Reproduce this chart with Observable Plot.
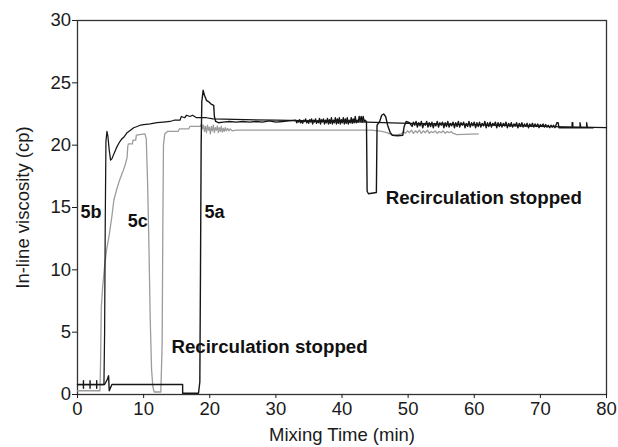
<!DOCTYPE html>
<html>
<head>
<meta charset="utf-8">
<script src="https://cdn.jsdelivr.net/npm/d3@7"></script>
<script src="https://cdn.jsdelivr.net/npm/@observablehq/plot@0.6"></script>
<style>
  body { margin: 0; background: #fff; }
</style>
</head>
<body>
<div id="chart"></div>
<script>
// In-line viscosity (cp) against mixing time (min) for three batches.
// Each reading is [minutes, cp].
const run5a = [
  [0,0.8],[0.9,0.8],[0.9,1.1],[0.9,0.5],[0.9,0.8],[1.9,0.8],[1.9,1.1],[1.9,0.5],[1.9,0.8],
  [2.9,0.8],[2.9,1.1],[2.9,0.5],[2.9,0.8],[4.1,0.8],[4.5,1.2],[4.7,1.5],[4.8,0.3],[5.2,0.8],
  [15.9,0.8],[15.9,0.1],[18.3,0.1],[18.5,1.0],[18.6,10],[18.7,20],[18.8,23.5],[19.0,24.4],
  [19.2,24.0],[19.5,23.6],[19.8,23.5],[20.2,23.3],[20.6,23.2],[20.7,22.3],[20.9,21.9],[21.3,21.8],
  [22,21.85],[23,21.9],[24,21.85],[25,21.9],[26,21.85],[27,21.9],[28,21.85],[29,21.95],[30,21.85],
  [31,21.9],[32,21.95],[33.0,22.0],[33.15,21.8],[33.3,21.95],[33.45,21.85],[33.6,22.05],[33.75,21.8],
  [33.9,21.95],[34.05,21.75],[34.2,22.0],[34.35,21.9],[34.5,22.1],[34.65,21.8],[34.8,21.95],
  [34.95,21.75],[35.1,22.05],[35.25,21.85],[35.4,22.1],[35.55,21.7],[35.7,22.0],[35.85,21.85],
  [36.0,22.1],[36.15,21.75],[36.3,21.95],[36.45,21.8],[36.6,22.15],[36.75,21.7],[36.9,22.05],
  [37.05,21.85],[37.2,22.1],[37.35,21.7],[37.5,22.0],[37.65,21.8],[37.8,22.15],[37.95,21.7],
  [38.1,22.05],[38.25,21.75],[38.4,22.2],[38.55,21.7],[38.7,22.0],[38.85,21.8],[39.0,22.2],
  [39.15,21.7],[39.3,22.1],[39.45,21.75],[39.6,22.2],[39.75,21.7],[39.9,22.05],[40.05,21.8],
  [40.2,22.2],[40.35,21.7],[40.5,22.1],[40.65,21.75],[40.8,22.2],[40.95,21.7],[41.1,22.0],
  [41.25,21.8],[41.4,22.2],[41.55,21.75],[41.7,22.1],[41.85,21.8],[42.0,22.3],[42.15,21.8],
  [42.3,22.0],[42.45,21.85],[42.6,22.3],[42.75,21.9],[42.9,22.3],[43.05,21.85],[43.2,22.3],
  [43.35,21.9],[43.5,22.0],[43.7,21.9],
  [43.8,16.3],[44.0,16.1],[45.2,16.2],[45.3,21.6],[45.7,21.9],[46.0,22.4],[46.3,22.5],[46.6,22.3],
  [46.9,21.6],[47.3,21.0],[47.6,20.8],[48.4,20.75],[49.2,20.8],[49.4,21.5],[49.7,21.9],[50.2,21.8],
  [50.6,21.5],[50.8,21.85],[51.0,21.6],[51.2,21.9],[51.4,21.45],[51.6,21.8],[51.8,21.55],[52.0,21.9],
  [52.2,21.4],[52.4,21.75],[52.6,21.6],[52.8,21.9],[53.0,21.45],[53.2,21.8],[53.4,21.5],[53.6,21.85],
  [53.8,21.4],[54.0,21.75],[54.2,21.55],[54.4,21.9],[54.6,21.45],[54.8,21.8],[55.0,21.6],[55.2,21.85],
  [55.4,21.4],[55.6,21.8],[55.8,21.5],[56.0,21.9],[56.2,21.45],[56.4,21.75],[56.6,21.55],[56.8,21.85],
  [57.0,21.4],[57.2,21.8],[57.4,21.5],[57.6,21.9],[57.8,21.45],[58.0,21.8],[58.2,21.6],[58.4,21.85],
  [58.6,21.4],[58.8,21.75],[59.0,21.5],[59.2,21.9],[59.4,21.45],[59.6,21.8],[59.8,21.55],[60.0,21.85],
  [60.2,21.4],[60.4,21.8],[60.6,21.5],[60.8,21.85],[61.0,21.45],[61.2,21.75],[61.4,21.55],[61.6,21.9],
  [61.8,21.4],[62.0,21.8],[62.2,21.5],[62.4,21.85],[62.6,21.45],[62.8,21.75],[63.0,21.6],[63.2,21.85],
  [63.4,21.4],[63.6,21.8],[63.8,21.5],[64.0,21.8],[64.2,21.45],[64.4,21.75],[64.6,21.55],[64.8,21.85],
  [65.0,21.4],[65.2,21.75],[65.4,21.5],[65.6,21.8],[65.8,21.45],[66.0,21.7],[66.2,21.55],[66.4,21.8],
  [66.6,21.4],[66.8,21.75],[67.0,21.5],[67.2,21.8],[67.4,21.45],[67.6,21.7],[67.8,21.5],[68.0,21.75],
  [68.2,21.4],[68.4,21.7],[68.6,21.5],[68.8,21.75],[69.0,21.45],[69.2,21.7],[69.4,21.5],[69.6,21.7],
  [69.8,21.4],[70.0,21.65],[70.2,21.5],[70.4,21.7],[70.6,21.45],[70.8,21.65],[71.0,21.45],[71.2,21.6],
  [71.4,21.4],[71.6,21.6],[71.8,21.45],[72.0,21.6],[72.2,21.4],[72.5,21.8],
  [72.7,21.8],[72.8,21.4],[74.8,21.4],[74.8,21.8],[74.9,21.8],[74.9,21.4],[76.0,21.4],[76.0,21.8],
  [76.1,21.4],[77.0,21.4],[77.0,21.8],[77.1,21.4],[78.0,21.4]
];

const run5b = [
  [0,0.8],[4.0,0.8],[4.1,5],[4.2,14],[4.3,20.3],[4.45,21.1],[4.6,20.7],[4.8,19.6],[5.0,18.8],
  [5.2,18.9],[5.5,19.3],[5.9,19.8],[6.3,20.2],[6.7,20.5],[7.1,20.7],[7.5,21.0],[8.0,21.2],[8.5,21.4],
  [9.0,21.5],[9.5,21.6],[10.0,21.65],[11,21.7],[12,21.8],[13,21.85],[14,21.9],[14.6,22.0],[15.5,22.0],
  [15.7,22.3],[16.2,22.2],[16.5,22.4],[17.0,22.3],[17.4,22.4],[18.0,22.2],[18.6,22.2],[19.5,22.2],
  [20.5,22.1],[30,22.0],[40,21.9],[50,21.75],[60,21.65],[70,21.5],[80,21.4]
];

const run5c = [
  [0,0.3],[3.4,0.3],[3.5,3],[3.6,7],[3.8,8.6],[4.1,10.3],[4.4,11.6],[4.8,12.8],[5.2,14.3],[5.5,15.6],
  [5.9,16.4],[6.3,17.1],[6.8,17.8],[7.2,18.4],[7.5,19.0],[7.6,19.9],[7.7,20.1],[8.3,20.1],[8.4,20.4],
  [8.8,20.4],[8.9,20.8],[10.2,20.9],[10.4,20.5],[10.6,17.0],[10.8,12.0],[11.0,6.0],[11.2,2.0],
  [11.4,0.6],[11.6,0.2],[12.6,0.2],[12.8,4.0],[12.9,13.0],[13.0,20.0],[13.2,20.9],[13.6,21.1],
  [15.2,21.1],[15.4,21.3],[16.8,21.3],[17.0,21.5],[18.6,21.5],[18.75,21.7],[18.9,21.3],[19.05,21.6],
  [19.2,21.1],[19.35,21.5],[19.5,21.0],[19.65,21.6],[19.8,21.2],[19.95,21.45],[20.1,20.9],[20.25,21.5],
  [20.4,21.15],[20.55,21.6],[20.7,21.0],[20.85,21.4],[21.0,21.2],[21.15,21.55],[21.3,21.0],[21.45,21.4],
  [21.6,21.1],[21.75,21.5],[21.9,21.05],[22.05,21.35],[22.2,21.1],[22.35,21.4],[22.5,21.15],
  [22.7,21.35],[22.9,21.15],[23.1,21.3],[23.4,21.15],[24.0,21.2],[44.5,21.2],[46.0,21.1],
  [46.8,21.0],[47.2,20.9],[48.0,20.8],[49.0,20.9],[49.3,21.1],[49.6,20.95],[49.9,21.15],[50.2,21.0],
  [50.5,21.2],[50.8,20.95],[51.1,21.15],[51.4,21.0],[51.7,21.2],[52.0,20.95],[52.3,21.15],[52.6,21.0],
  [52.9,21.2],[53.2,20.95],[53.5,21.1],[53.8,21.0],[54.1,21.15],[54.4,20.95],[54.7,21.1],[55.0,21.0],
  [55.3,21.15],[55.6,20.95],[55.9,21.1],[56.2,21.0],[56.5,21.1],[56.8,20.95],[57.1,20.9],[57.3,20.85],
  [60.6,20.9]
];

const xTicks = [0, 10, 20, 30, 40, 50, 60, 70, 80];
const yTicks = [0, 5, 10, 15, 20, 25, 30];

const toRows = (run, name) => run.map(([t, v]) => ({t, v, run: name}));

const font = "'Liberation Sans', Arial, Helvetica, sans-serif";
const black = "#161616";
const grey = "#9c9c9c";

const chart = Plot.plot({
  width: 618,
  height: 447,
  marginLeft: 77,
  marginRight: 12,
  marginTop: 20,
  marginBottom: 53,
  style: {fontFamily: font, fontSize: "18.5px", color: "#1a1a1a", background: "#fff"},
  x: {domain: [0, 80]},
  y: {domain: [0, 30]},
  marks: [
    Plot.frame({stroke: "#333", strokeWidth: 1.3}),
    Plot.axisX({
      ticks: xTicks, tickSize: 4, tickPadding: 3.5, fontSize: 18.5,
      label: "Mixing Time (min)", labelAnchor: "center", labelArrow: "none", labelOffset: 46
    }),
    Plot.axisY({
      ticks: yTicks, tickSize: 5, tickPadding: 1.5, fontSize: 18.5,
      label: "In-line viscosity (cp)", labelAnchor: "center", labelArrow: "none", labelOffset: 62
    }),
    Plot.line(toRows(run5c, "5c"), {x: "t", y: "v", stroke: grey, strokeWidth: 1.3}),
    Plot.line(toRows(run5b, "5b"), {x: "t", y: "v", stroke: black, strokeWidth: 1.25}),
    Plot.line(toRows(run5a, "5a"), {x: "t", y: "v", stroke: black, strokeWidth: 1.4}),
    Plot.text(["5b"], {x: 0.45, y: 14.6, text: d => d, textAnchor: "start", fontWeight: "bold", fontSize: 18, fill: "#111"}),
    Plot.text(["5c"], {x: 9.1, y: 13.9, text: d => d, fontWeight: "bold", fontSize: 18, fill: "#111"}),
    Plot.text(["5a"], {x: 19.2, y: 14.6, text: d => d, textAnchor: "start", fontWeight: "bold", fontSize: 18, fill: "#111"}),
    Plot.text(["Recirculation stopped"], {x: 14.2, y: 3.77, text: d => d, textAnchor: "start", fontWeight: "bold", fontSize: 18.7, fill: "#111"}),
    Plot.text(["Recirculation stopped"], {x: 46.6, y: 15.8, text: d => d, textAnchor: "start", fontWeight: "bold", fontSize: 18.7, fill: "#111"})
  ]
});

document.getElementById("chart").append(chart);
</script>
</body>
</html>
